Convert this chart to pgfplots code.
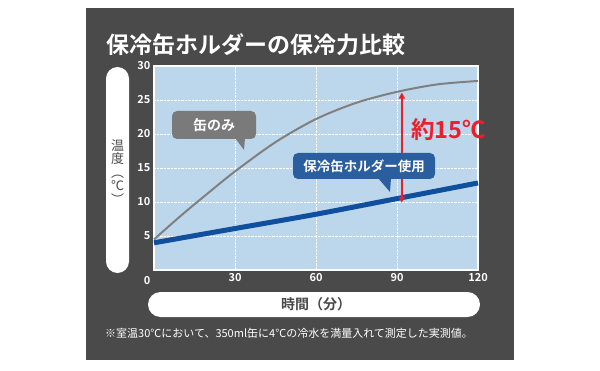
\documentclass[border=0pt]{standalone}
\usepackage{fontspec}
\setmainfont{Noto Sans CJK JP}[BoldFont={Noto Sans CJK JP Bold}]
\usepackage{pgfplots}
\pgfplotsset{compat=1.18}
\usetikzlibrary{arrows.meta}
\definecolor{panel}{HTML}{4A4A4A}
\definecolor{plotbg}{HTML}{BCD6EC}
\definecolor{greyline}{HTML}{808080}
\definecolor{blueline}{HTML}{0F4F9E}
\definecolor{bluebox}{HTML}{2A5E9F}
\definecolor{greybox}{HTML}{7A7A7A}
\definecolor{redarrow}{HTML}{E8202A}
\definecolor{labeltext}{HTML}{4A4A4A}
\begin{document}
\begin{tikzpicture}[x=1pt,y=1pt]
\fill[white] (0,0) rectangle (600,370);
\fill[panel] (86,10) rectangle (514,362);
% title
\node[anchor=west, text=white, font=\fontsize{23}{23}\selectfont\bfseries, inner sep=0pt] at (106,325) {保冷缶ホルダーの保冷力比較};
% y label pill
\fill[white, rounded corners=11.5pt] (106,97) rectangle (129,303);
\node[text=labeltext, font=\fontsize{13}{13.5}\selectfont, inner sep=0pt, align=center] at (117.5,198) {温\\度\\︵\\℃\\︶};
% x label pill
\fill[white, rounded corners=12.5pt] (148,53) rectangle (480,78);
\node[text=labeltext, font=\fontsize{14}{14}\selectfont\bfseries, inner sep=0pt] at (316,65.5) {時間（分）};
% footnote
\node[anchor=west, text=white, font=\fontsize{11}{11}\selectfont, inner sep=0pt] at (105,37) {※室温30℃において、350ml缶に4℃の冷水を満量入れて測定した実測値。};
\begin{axis}[
  at={(154pt,100pt)}, anchor=south west,
  scale only axis, width=324pt, height=204pt,
  xmin=0, xmax=120, ymin=0, ymax=30,
  xtick={30,60,90,120}, ytick={5,10,15,20,25,30},
  major tick length=0pt,
  axis background/.style={fill=plotbg},
  axis line style={white, line width=2pt},
  grid=major,
  grid style={white, densely dotted, line width=0.7pt},
  tick label style={text=white, font=\fontsize{11}{11}\selectfont\bfseries},
  /pgf/number format/assume math mode=true,
  clip=false,
]
\addplot[greyline, line width=2pt, smooth] coordinates {
  (0,4.5) (10,8) (20,11.3) (30,14.5) (45,18.8) (60,22.2) (75,24.6) (90,26.2) (105,27.3) (120,27.8)};
\addplot[blueline, line width=5pt, smooth] coordinates {
  (0,4) (30,6.1) (60,8.2) (90,10.5) (120,12.8)};
\draw[redarrow, line width=1.6pt, {Triangle[length=6pt,width=6pt]}-{Triangle[length=6pt,width=6pt]}] (axis cs:91.8,26.1) -- (axis cs:91.8,9.9);
\end{axis}
% 0 label
\node[text=white, font=\fontsize{11}{11}\selectfont\bfseries, inner sep=0pt] at (147,89) {0};
% callouts
\fill[greybox] (235,232) -- (245,232) -- (244,220) -- cycle;
\node[fill=greybox, rounded corners=5pt, minimum width=84pt, minimum height=28pt, inner sep=0pt, text=white, font=\fontsize{14}{14}\selectfont\bfseries] at (214,245) {缶のみ};
\fill[bluebox] (378,192) -- (391,192) -- (390,178) -- cycle;
\node[fill=bluebox, rounded corners=5pt, minimum width=142pt, minimum height=26pt, inner sep=0pt, text=white, font=\fontsize{13.5}{13.5}\selectfont\bfseries] at (364,204) {保冷缶ホルダー使用};
% red label
\node[anchor=west, text=redarrow, font=\fontsize{23.5}{23.5}\selectfont\bfseries, inner sep=0pt] at (411,240) {約15℃};
\end{tikzpicture}
\end{document}
